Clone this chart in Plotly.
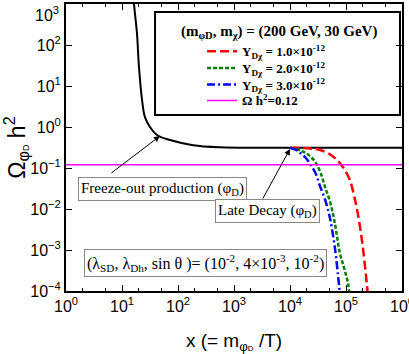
import numpy as np
import plotly.graph_objects as go

# freeze-out curve of phi_D (black)
x_fo = [16.0, 16.4, 18.5, 20.1, 22.8, 25.7, 31.6, 42.2, 72, 186, 562, 3162, 1e6]
y_fo = [2000, 1000, 195, 28.8, 4.57, 1.74, 1.0, 0.64, 0.48, 0.36, 0.32, 0.31, 0.31]

# late decay curves for the three Y_Dchi values
x_r = [1e4, 2e4, 3.47e4, 5.62e4, 7.76e4, 9.55e4, 1.17e5, 1.38e5, 1.62e5, 2e5, 2.34e5, 2.51e5]
y_r = [0.31, 0.302, 0.275, 0.2, 0.132, 0.089, 0.0513, 0.0224, 0.00794, 0.00117, 1.6e-4, 6.3e-5]
x_g = [1e4, 1.58e4, 2.14e4, 2.82e4, 3.47e4, 4.22e4, 5.25e4, 6.31e4, 7.76e4, 9.33e4, 1.1e5, 1.17e5]
y_g = [0.31, 0.263, 0.209, 0.141, 0.0794, 0.0347, 0.0141, 0.00457, 8.5e-4, 3.5e-4, 1.4e-4, 6.3e-5]
x_b = [1e4, 1.26e4, 1.51e4, 1.9e4, 2.29e4, 2.9e4, 3.47e4, 4.3e4, 5.13e4, 6.31e4, 7.5e4, 7.9e4]
y_b = [0.31, 0.28, 0.234, 0.178, 0.126, 0.071, 0.0347, 0.0158, 0.0063, 0.00117, 1.4e-4, 6.3e-5]

omega_obs = 0.12
x_lim = [1, 1e6]

xticks = [0, 1, 2, 3, 4, 5, 6]
yticks = [-4, -3, -2, -1, 0, 1, 2, 3]

serif = "Liberation Serif"
sans = "Liberation Sans"

fig = go.Figure()
fig.add_trace(go.Scatter(x=x_fo, y=y_fo, mode="lines", line=dict(color="black", width=2, shape="spline"),
                         showlegend=False))
fig.add_trace(go.Scatter(x=x_r, y=y_r, mode="lines", name="Y<sub>Dχ</sub> = 1.0×10<sup>-12</sup>", legend="legend",
                         line=dict(color="red", width=2.5, dash="9px,4px", shape="spline")))
fig.add_trace(go.Scatter(x=x_g, y=y_g, mode="lines", name="Y<sub>Dχ</sub> = 2.0×10<sup>-12</sup>", legend="legend2",
                         line=dict(color="green", width=2.5, dash="4px,2px", shape="spline")))
fig.add_trace(go.Scatter(x=x_b, y=y_b, mode="lines", name="Y<sub>Dχ</sub> = 3.0×10<sup>-12</sup>", legend="legend3",
                         line=dict(color="blue", width=2.5, dash="8px,3px,2px,3px", shape="spline")))
fig.add_trace(go.Scatter(x=x_lim, y=[omega_obs, omega_obs], mode="lines", name="Ω h<sup>2</sup>=0.12",
                         legend="legend4", line=dict(color="magenta", width=1.5)))

# legend frame and its heading
fig.add_shape(type="rect", xref="paper", yref="paper", x0=0.265, x1=0.994, y0=0.613, y1=0.972,
              line=dict(color="black", width=2), fillcolor="white", layer="below")
fig.add_annotation(text="<b>(m<sub>φD</sub>, m<sub>χ</sub>) = (200 GeV, 30 GeV)</b>", xref="paper", yref="paper",
                   x=0.634, y=0.902, xanchor="center", yanchor="middle", showarrow=False,
                   font=dict(family=serif, size=15, color="black"))

box = dict(bordercolor="#888888", borderwidth=1, borderpad=2, bgcolor="white", showarrow=False,
           xref="paper", yref="paper", xanchor="center", yanchor="middle")
fig.add_annotation(text="Freeze-out production (φ<sub>D</sub>)", x=0.286, y=0.355,
                   font=dict(family=serif, size=15, color="black"), **box)
fig.add_annotation(text="Late Decay (φ<sub>D</sub>)", x=0.601, y=0.279,
                   font=dict(family=serif, size=15, color="black"), **box)
fig.add_annotation(text="(λ<sub>SD</sub>, λ<sub>Dh</sub>, sin θ )= (10<sup>-2</sup>, 4×10<sup>-3</sup>, 10<sup>-2</sup>)",
                   x=0.414, y=0.0976, font=dict(family=serif, size=16, color="black"), **box)

arrow = dict(text="", showarrow=True, arrowhead=2, arrowsize=1.2, arrowwidth=1, arrowcolor="black",
             xref="x", yref="y", axref="pixel", ayref="pixel")
fig.add_annotation(x=np.log10(47.5), y=np.log10(0.6), ax=-50, ay=38, **arrow)
fig.add_annotation(x=np.log10(1e4), y=np.log10(0.29), ax=-28, ay=51, **arrow)

# top y label drawn separately so it is not cut at the page edge
fig.add_annotation(text="10<sup>3</sup>", xref="paper", yref="paper", x=0, y=1, xanchor="right", yanchor="top",
                   xshift=-5, yshift=2, showarrow=False, font=dict(family=sans, size=16, color="black"))

axis = dict(type="log", showline=True, linewidth=2, linecolor="black", mirror="allticks", automargin=False,
            ticks="inside", ticklen=6, tickwidth=1, tickcolor="black", showgrid=False, zeroline=False,
            ticklabeloverflow="allow", tickfont=dict(family=sans, size=16, color="black"))
fig.update_xaxes(**axis, range=[0, 6], tickvals=[10 ** t for t in xticks],
                 ticktext=["10<sup>%d</sup>" % t for t in xticks],
                 minor=dict(ticks="inside", ticklen=3, tickcolor="black"),
                 title=dict(text="x (= m<sub>φ<span style='font-size:8px'>D</span></sub> /T)",
                            font=dict(family=sans, size=19, color="black"), standoff=26))
fig.update_yaxes(**axis, range=[-4, 3], tickvals=[10 ** t for t in yticks],
                 ticktext=["10<sup>%s</sup>" % (str(t).replace("-", "−")) if t < 3 else "" for t in yticks],
                 title=dict(text="Ω<sub>φ<span style='font-size:9px'>D</span></sub> h<sup>2</sup>",
                            font=dict(family=sans, size=23, color="black"), standoff=6))

leg = dict(x=0.405, xanchor="left", yanchor="middle", bgcolor="rgba(0,0,0,0)", borderwidth=0,
           font=dict(family=serif, size=13, color="black", weight="bold"))
fig.update_layout(
    width=409, height=354, autosize=False, margin=dict(l=66, r=7, t=4, b=63, autoexpand=False),
    plot_bgcolor="white", paper_bgcolor="white",
    legend=dict(leg, y=0.835), legend2=dict(leg, y=0.777),
    legend3=dict(leg, y=0.719), legend4=dict(leg, y=0.664),
)
# drop the page's default body margin so the figure sits at the window corner
fig.write_html("out.html", config={"displayModeBar": False, "responsive": False},
               post_script="document.body.style.margin='0px';document.documentElement.style.overflow='hidden';")
